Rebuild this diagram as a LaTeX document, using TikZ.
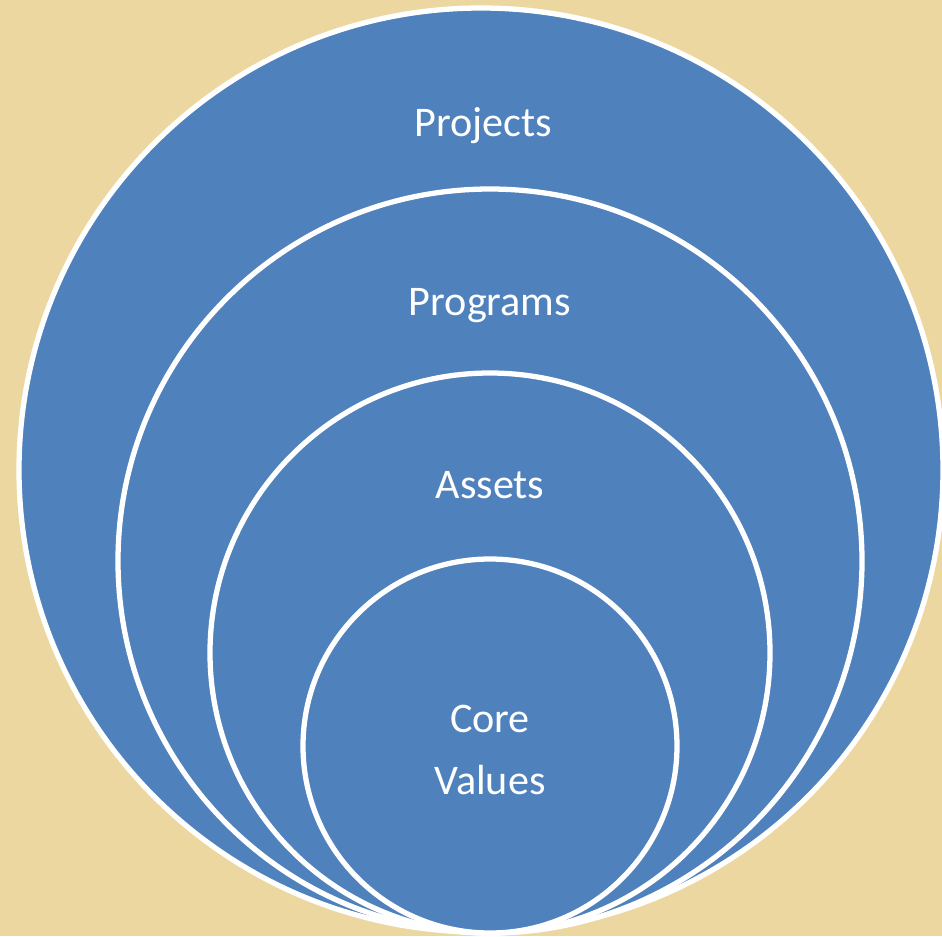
\documentclass[tikz,border=0pt]{standalone}
\usepackage{fontspec}
\setmainfont{Carlito}
\usepackage{xcolor}
\usepackage{tikz}
\usetikzlibrary{positioning}

\definecolor{parchment}{HTML}{ECD7A0}
\definecolor{ringblue}{HTML}{4F81BD}

\tikzset{
	ring/.style={circle, draw=white, line width=3pt, fill=ringblue, inner sep=0pt},
	ringlabel/.style={text=white, font=\fontsize{24}{35}\selectfont, align=center}
}

\begin{document}
\begin{tikzpicture}
		
		% Background
		\useasboundingbox (0,0) rectangle (18.84,-18.72);
		\fill[parchment] (0,0) rectangle (18.84,-18.72);
		\clip (0,0) rectangle (18.84,-18.72);
		
		% Nested rings
		\node[ring, minimum size=18.48cm] (projects) at (9.62,-9.40) {};
		\node[ring, minimum size=14.88cm] (programs) at (9.80,-11.22) {};
		\node[ring, minimum size=11.20cm] (assets) at (9.80,-13.06) {};
		\node[ring, minimum size=7.48cm] (core) at (9.80,-14.92) {};
		
		% Labels
		\node[ringlabel] (projectstext) at (9.66,-2.52) {Projects};
		\node[ringlabel] (programstext) at (9.80,-6.12) {Programs};
		\node[ringlabel] (assetstext) at (9.80,-9.70) {Assets};
		\node[ringlabel] (coretext) at (9.80,-15.00) {Core\\Values};
		
	\end{tikzpicture}
\end{document}
